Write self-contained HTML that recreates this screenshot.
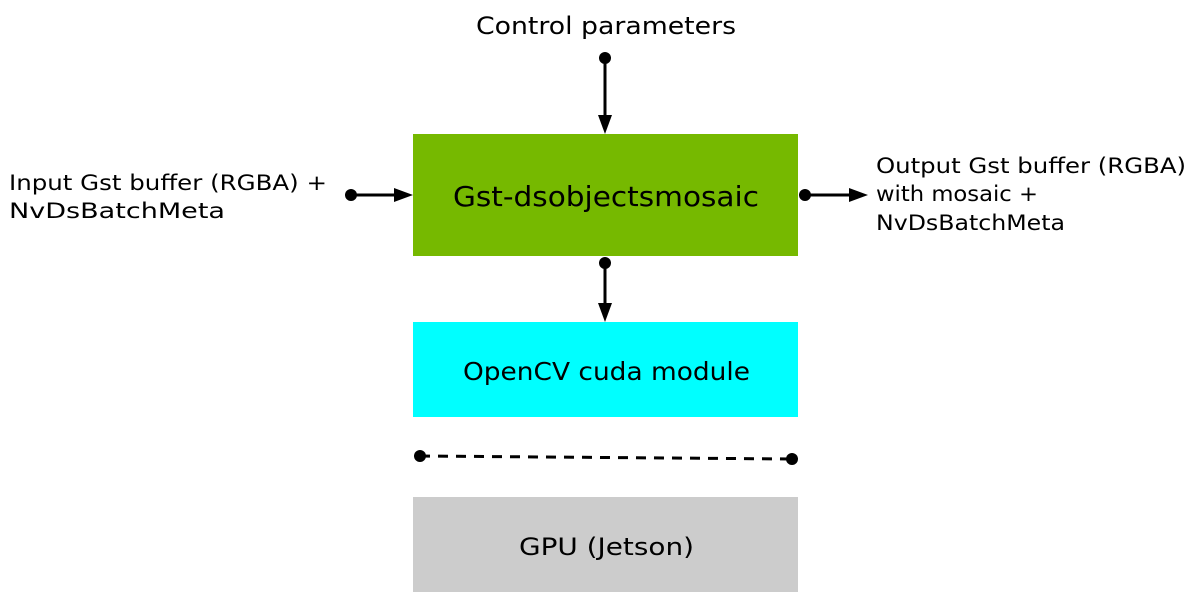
<!DOCTYPE html>
<html><head><meta charset="utf-8"><style>html,body{margin:0;padding:0;background:#fff}svg{display:block}</style></head>
<body>
<svg width="1200" height="596" viewBox="0 0 1200 596" xmlns="http://www.w3.org/2000/svg" font-family="DejaVu Sans, Liberation Sans, sans-serif" fill="#000">
<rect x="413" y="134" width="385" height="122" fill="#76b900"/>
<rect x="413" y="322" width="385" height="95" fill="#00ffff"/>
<rect x="413" y="497" width="385" height="95" fill="#cccccc"/>
<g stroke="#000" stroke-width="3">
<line x1="605" y1="58" x2="605" y2="118"/>
<line x1="351" y1="195" x2="397" y2="195"/>
<line x1="805" y1="195" x2="852" y2="195"/>
<line x1="605" y1="263" x2="605" y2="306"/>
<line x1="420" y1="456" x2="792" y2="459" stroke-dasharray="10,8"/>
</g>
<circle cx="605" cy="58" r="6"/><circle cx="351" cy="195" r="6"/><circle cx="805" cy="195" r="6"/>
<circle cx="605" cy="263" r="6"/><circle cx="420" cy="456" r="6"/><circle cx="792" cy="459" r="6"/>
<polygon points="598,115 612,115 605,134"/>
<polygon points="394,188 394,202 413,195"/>
<polygon points="849,188 849,202 868,195"/>
<polygon points="598,303 612,303 605,322"/>
<text x="476" y="34" font-size="24" textLength="260" lengthAdjust="spacingAndGlyphs">Control parameters</text>
<text x="453" y="206" font-size="28" textLength="306" lengthAdjust="spacingAndGlyphs">Gst-dsobjectsmosaic</text>
<text x="463" y="380" font-size="25" textLength="287" lengthAdjust="spacingAndGlyphs">OpenCV cuda module</text>
<text x="519" y="555" font-size="24" textLength="175" lengthAdjust="spacingAndGlyphs">GPU (Jetson)</text>
<text x="9" y="190" font-size="21" textLength="318" lengthAdjust="spacingAndGlyphs">Input Gst buffer (RGBA) +</text>
<text x="9" y="218" font-size="21" textLength="216" lengthAdjust="spacingAndGlyphs">NvDsBatchMeta</text>
<text x="876" y="173" font-size="21" textLength="310" lengthAdjust="spacingAndGlyphs">Output Gst buffer (RGBA)</text>
<text x="876" y="201" font-size="21" textLength="162" lengthAdjust="spacingAndGlyphs">with mosaic +</text>
<text x="876" y="230" font-size="21" textLength="189" lengthAdjust="spacingAndGlyphs">NvDsBatchMeta</text>
</svg>
</body></html>
